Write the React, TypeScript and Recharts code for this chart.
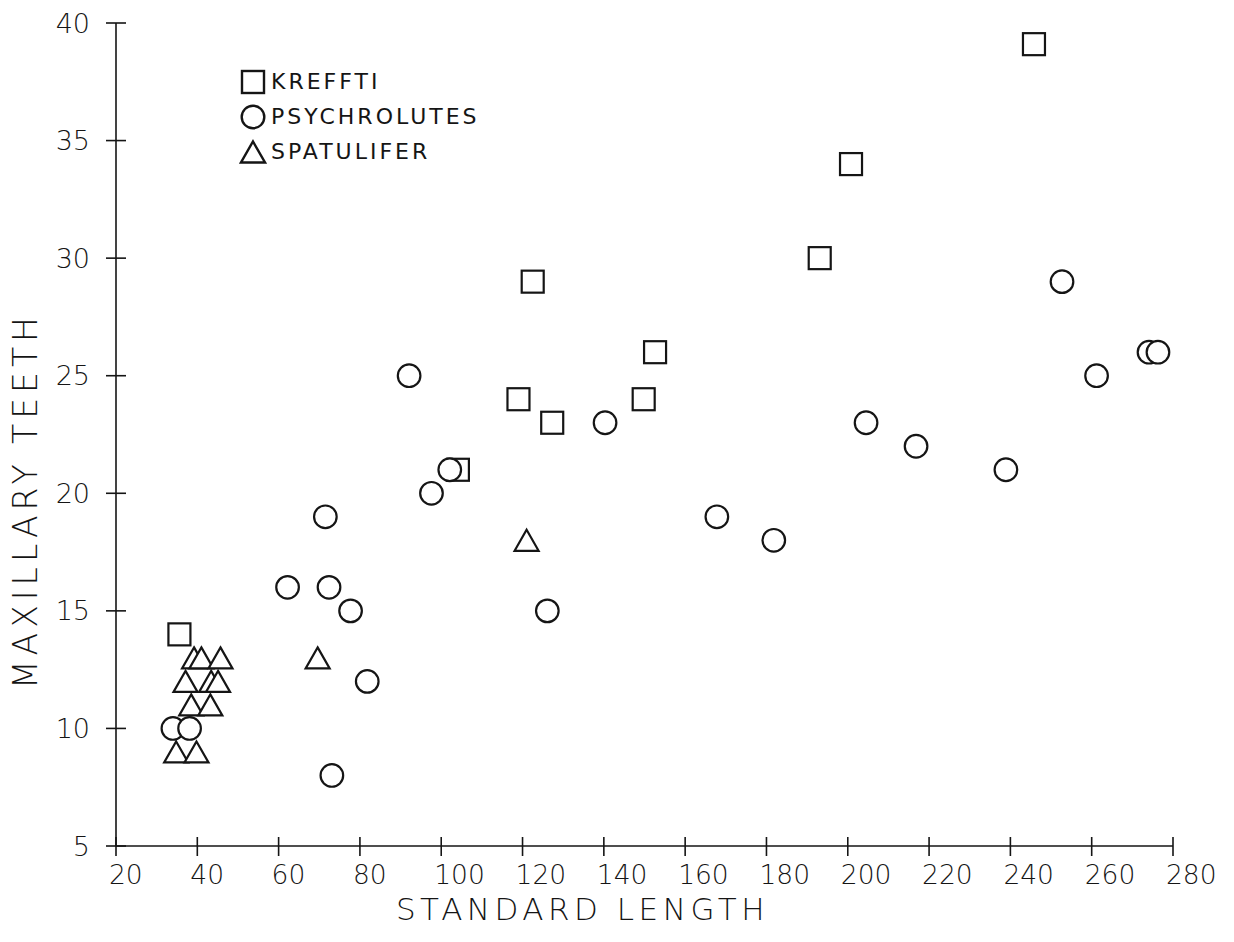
import { Legend, Scatter, ScatterChart, XAxis, YAxis } from "recharts";

// Values (standard length vs. maxillary teeth count)
const krefftiLength = [35.6, 104.1, 119.0, 122.5, 127.3, 149.8, 152.6, 193.1, 200.8, 245.8];
const krefftiTeeth = [14, 21, 24, 29, 23, 24, 26, 30, 34, 39.1];

const psychrolutesLength = [34.0, 38.1, 62.2, 71.5, 72.4, 73.1, 77.7, 81.8, 92.1, 97.6, 102.1, 126.1, 140.3, 167.8, 181.8, 204.5, 216.8, 238.9, 252.7, 261.2, 274.1, 276.3];
const psychrolutesTeeth = [10, 10, 16, 19, 16, 8, 15, 12, 25, 20, 21, 15, 23, 19, 18, 23, 22, 21, 29, 25, 26, 26];

const spatuliferLength = [34.8, 39.8, 37.1, 38.5, 39.2, 41.0, 43.2, 43.4, 45.1, 45.7, 69.6, 121.0];
const spatuliferTeeth = [9, 9, 12, 11, 13, 13, 11, 12, 12, 13, 13, 18];

const xTicks = [20, 40, 60, 80, 100, 120, 140, 160, 180, 200, 220, 240, 260, 280];
const yTicks = [5, 10, 15, 20, 25, 30, 35, 40];

const toPoints = (xs: number[], ys: number[]) => xs.map((x, i) => ({ x, y: ys[i] }));

const INK = "#151515";
const FONT = "'DejaVu Sans', sans-serif";

const SquareMark = ({ cx, cy }: any) => (
    <rect x={cx - 11} y={cy - 11} width={22} height={22} fill="#fff" stroke={INK} strokeWidth={2.2} />
);

const CircleMark = ({ cx, cy }: any) => (
    <circle cx={cx} cy={cy} r={11.3} fill="#fff" stroke={INK} strokeWidth={2.2} />
);

const TriangleMark = ({ cx, cy }: any) => (
    <path
        d={`M${cx},${cy - 10.5}L${cx + 12},${cy + 10.5}L${cx - 12},${cy + 10.5}Z`}
        fill="#fff"
        stroke={INK}
        strokeWidth={2.2}
    />
);

function XTick(props: any) {
    const { x, y, payload } = props;
    return (
        <g>
            <line x1={x} y1={y - 9} x2={x} y2={y + 10} stroke={INK} strokeWidth={1.6} />
            <text x={x - 7} y={y + 38} textAnchor="start" fontSize={26.5} fontFamily={FONT} fontWeight={300} fill={INK}>
                {payload.value}
            </text>
        </g>
    );
}

function YTick(props: any) {
    const { x, y, payload } = props;
    return (
        <g>
            <line x1={x - 10} y1={y} x2={x + 10} y2={y} stroke={INK} strokeWidth={1.6} />
            <text x={x - 26} y={y + 9.5} textAnchor="end" fontSize={27} fontFamily={FONT} fontWeight={300} fill={INK}>
                {payload.value}
            </text>
        </g>
    );
}

const legendIcons: Record<string, any> = {
    KREFFTI: <rect x={3} y={3} width={22} height={22} fill="#fff" stroke={INK} strokeWidth={2.4} />,
    PSYCHROLUTES: <circle cx={14} cy={14} r={11.3} fill="#fff" stroke={INK} strokeWidth={2.4} />,
    SPATULIFER: <path d="M14,3.5L26,24.5L2,24.5Z" fill="#fff" stroke={INK} strokeWidth={2.4} />,
};

function KeyBox(props: any) {
    const { payload } = props;
    return (
        <div style={{ fontFamily: FONT }}>
            {(payload || []).map((entry: any) => (
                <div key={entry.value} style={{ display: "flex", alignItems: "center", height: 35 }}>
                    <svg width={28} height={28}>{legendIcons[entry.value]}</svg>
                    <span style={{ marginLeft: 4, fontSize: 22, letterSpacing: 3, color: INK }}>{entry.value}</span>
                </div>
            ))}
        </div>
    );
}

export default function App() {
    return (
        <div style={{ position: "absolute", left: 0, top: 0, width: 1234, height: 942, background: "#fff" }}>
            <ScatterChart width={1234} height={942} margin={{ top: 23, right: 61, bottom: 22, left: 0 }}>
                <XAxis
                    type="number"
                    dataKey="x"
                    domain={[20, 280]}
                    ticks={xTicks}
                    interval={0}
                    height={74}
                    tickLine={false}
                    tickSize={0}
                    tickMargin={0}
                    tick={<XTick />}
                    axisLine={{ stroke: INK, strokeWidth: 1.6 }}
                    label={{
                        value: "STANDARD LENGTH",
                        position: "insideBottom",
                        offset: 0,
                        dx: -62,
                        fontSize: 31,
                        letterSpacing: 4.5,
                        fontFamily: FONT,
                        fontWeight: 300,
                        fill: INK,
                    }}
                />
                <YAxis
                    type="number"
                    dataKey="y"
                    domain={[5, 40]}
                    ticks={yTicks}
                    interval={0}
                    width={116}
                    tickLine={false}
                    tickSize={0}
                    tickMargin={0}
                    tick={<YTick />}
                    axisLine={{ stroke: INK, strokeWidth: 1.6 }}
                    label={{
                        value: "MAXILLARY TEETH",
                        angle: -90,
                        position: "center",
                        dx: -33,
                        dy: 66,
                        fontSize: 33,
                        letterSpacing: 5,
                        fontFamily: FONT,
                        fontWeight: 300,
                        fill: INK,
                    }}
                />
                <Legend
                    layout="vertical"
                    align="center"
                    verticalAlign="middle"
                    content={<KeyBox />}
                    wrapperStyle={{ left: 239, top: 64, width: 300, height: 110 }}
                />
                <Scatter name="KREFFTI" data={toPoints(krefftiLength, krefftiTeeth)} shape={SquareMark} isAnimationActive={false} />
                <Scatter name="PSYCHROLUTES" data={toPoints(psychrolutesLength, psychrolutesTeeth)} shape={CircleMark} isAnimationActive={false} />
                <Scatter name="SPATULIFER" data={toPoints(spatuliferLength, spatuliferTeeth)} shape={TriangleMark} isAnimationActive={false} />
            </ScatterChart>
        </div>
    );
}
